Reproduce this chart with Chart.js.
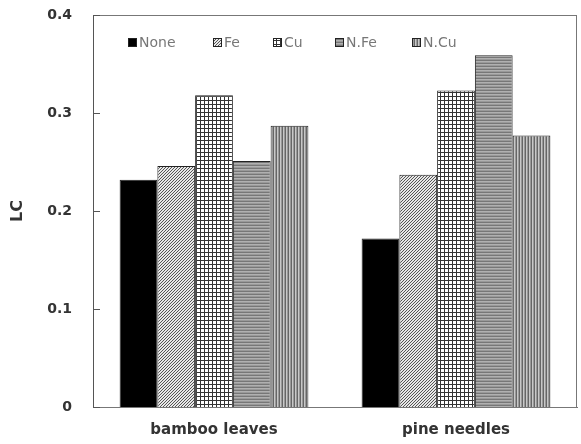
<!DOCTYPE html>
<html lang="en">
<head>
    <meta charset="UTF-8">
    <title>LC chart</title>
    <style>
        html, body { margin: 0; padding: 0; background: #fff; }
        #wrap { width: 581px; height: 444px; }
    </style>
</head>
<body>
    <div id="wrap"><canvas id="lcChart" width="581" height="444"></canvas></div>

    <script src="https://cdn.jsdelivr.net/npm/chart.js"></script>
    <script>
        // data
        const categories = ['bamboo leaves', 'pine needles'];
        const seriesNames = ['None', 'Fe', 'Cu', 'N.Fe', 'N.Cu'];
        const noneVals = [0.232, 0.172];
        const feVals   = [0.246, 0.237];
        const cuVals   = [0.318, 0.323];
        const nFeVals  = [0.251, 0.359];
        const nCuVals  = [0.287, 0.277];
        const yTicks   = [0, 0.1, 0.2, 0.3, 0.4];

        // fill patterns
        function makePattern(w, h, draw) {
            const c = document.createElement('canvas');
            c.width = w; c.height = h;
            const g = c.getContext('2d');
            draw(g);
            return document.getElementById('lcChart').getContext('2d').createPattern(c, 'repeat');
        }
        const fills = [
            '#000',
            makePattern(3, 3, g => {
                g.fillStyle = '#e8e8e8'; g.fillRect(0, 0, 3, 3);
                g.fillStyle = '#555';
                g.fillRect(2, 0, 1, 1); g.fillRect(1, 1, 1, 1); g.fillRect(0, 2, 1, 1);
            }),
            makePattern(4, 4, g => {
                g.fillStyle = '#fff'; g.fillRect(0, 0, 4, 4);
                g.fillStyle = '#333'; g.fillRect(0, 0, 4, 1); g.fillRect(0, 0, 1, 4);
            }),
            makePattern(1, 3, g => {
                g.fillStyle = '#777'; g.fillRect(0, 0, 1, 1);
                g.fillStyle = '#b0b0b0'; g.fillRect(0, 1, 1, 1);
                g.fillStyle = '#999'; g.fillRect(0, 2, 1, 1);
            }),
            makePattern(3, 1, g => {
                g.fillStyle = '#666'; g.fillRect(0, 0, 1, 1);
                g.fillStyle = '#c8c8c8'; g.fillRect(1, 0, 1, 1);
                g.fillStyle = '#999'; g.fillRect(2, 0, 1, 1);
            })
        ];
        const allVals = [noneVals, feVals, cuVals, nFeVals, nCuVals];

        // box, inner tick marks and legend inside the plot
        const framePlugin = {
            id: 'frame',
            afterDraw(chart) {
                const ctx = chart.ctx;
                const a = chart.chartArea;
                const y = chart.scales.y;
                ctx.save();
                ctx.strokeStyle = '#777';
                ctx.lineWidth = 1;
                ctx.strokeRect(a.left + 0.5, a.top + 0.5, a.right - a.left - 1, a.bottom - a.top);
                ctx.strokeStyle = '#555';
                ctx.beginPath();
                ctx.moveTo(a.left + 0.5, a.top); ctx.lineTo(a.left + 0.5, a.bottom);
                yTicks.forEach(v => {
                    const py = Math.round(y.getPixelForValue(v)) + 0.5;
                    ctx.moveTo(a.left, py); ctx.lineTo(a.left + 7, py);
                });
                ctx.stroke();

                // legend
                const xs = [35, 120, 180, 242, 319];
                const ly = a.top + 28;
                ctx.font = '14px "DejaVu Sans"';
                ctx.textBaseline = 'middle';
                chart.data.datasets.forEach((ds, i) => {
                    const bx = a.left + xs[i];
                    ctx.fillStyle = ds.backgroundColor;
                    ctx.fillRect(bx, ly - 5, 9, 9);
                    ctx.strokeStyle = '#222';
                    ctx.strokeRect(bx + 0.5, ly - 4.5, 8, 8);
                    ctx.fillStyle = '#777';
                    ctx.fillText(ds.label, bx + 11, ly);
                });
                ctx.restore();
            }
        };

        new Chart(document.getElementById('lcChart'), {
            type: 'bar',
            data: {
                labels: categories,
                datasets: seriesNames.map((name, i) => ({
                    label: name,
                    data: allVals[i],
                    backgroundColor: fills[i],
                    borderColor: '#222',
                    borderWidth: 1,
                    categoryPercentage: 0.78,
                    barPercentage: 1
                }))
            },
            plugins: [framePlugin],
            options: {
                responsive: false,
                animation: false,
                layout: { padding: { top: 15, right: 4, left: 0, bottom: 0 } },
                plugins: { legend: { display: false }, tooltip: { enabled: false } },
                scales: {
                    x: {
                        grid: { display: false, drawTicks: false },
                        border: { display: true, color: '#777' },
                        ticks: {
                            padding: 14,
                            color: '#333',
                            font: { family: 'DejaVu Sans', size: 15, weight: 'bold' }
                        },
                        afterFit(scale) {
                            scale.height = 37;
                            scale.paddingLeft = 0; scale.paddingRight = 0;
                        }
                    },
                    y: {
                        min: 0,
                        max: 0.4,
                        afterBuildTicks(scale) { scale.ticks = yTicks.map(v => ({ value: v })); },
                        grid: { display: false, drawTicks: false },
                        border: { display: false },
                        ticks: {
                            padding: 21,
                            color: '#333',
                            font: { family: 'DejaVu Sans', size: 14, weight: 'bold' },
                            callback: v => String(v)
                        },
                        title: {
                            display: true,
                            text: 'LC',
                            color: '#333',
                            padding: { top: 8, bottom: 0 },
                            font: { family: 'DejaVu Sans', size: 16, weight: 'bold' }
                        },
                        afterFit(scale) {
                            scale.width = 93;
                            scale.paddingTop = 0; scale.paddingBottom = 0;
                        }
                    }
                }
            }
        });
    </script>
</body>
</html>
